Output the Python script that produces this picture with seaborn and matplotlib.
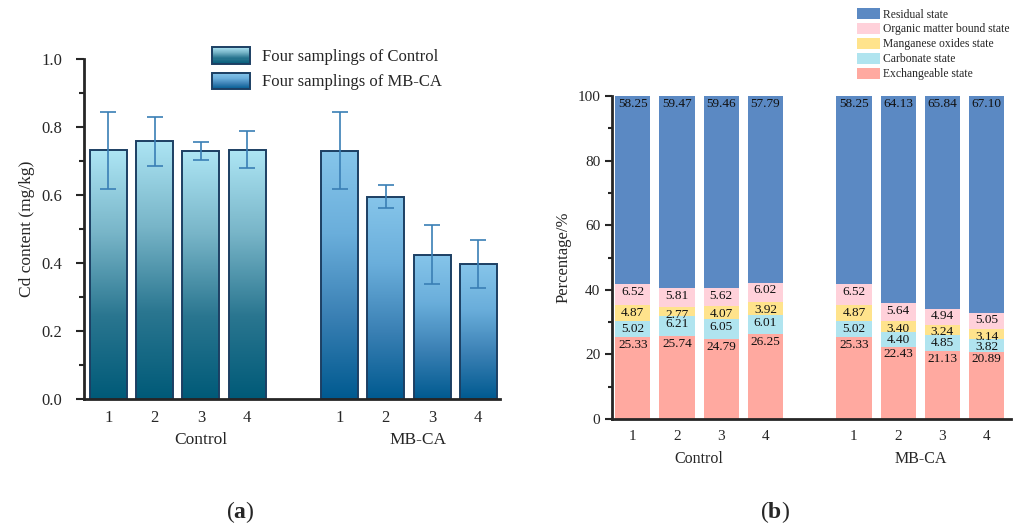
import numpy as np
import pandas as pd
import matplotlib
matplotlib.use("Agg")
import matplotlib.pyplot as plt
import seaborn as sns
from matplotlib.colors import LinearSegmentedColormap
from matplotlib.patches import Rectangle
from matplotlib.ticker import MultipleLocator, FormatStrFormatter
from matplotlib.legend_handler import HandlerPatch

# ---------------- data ----------------
groups = ["Control", "MB-CA"]
samplings = ["1", "2", "3", "4"]
cd_control = [0.732, 0.759, 0.729, 0.732]
cd_mbca = [0.729, 0.594, 0.425, 0.397]
err_lo_control = [0.115, 0.074, 0.027, 0.052]
err_hi_control = [0.113, 0.071, 0.028, 0.055]
err_lo_mbca = [0.112, 0.033, 0.087, 0.071]
err_hi_mbca = [0.116, 0.034, 0.088, 0.071]

fractions = ["Exchangeable state", "Carbonate state", "Manganese oxides state",
             "Organic matter bound state", "Residual state"]
exch = [25.33, 25.74, 24.79, 26.25, 25.33, 22.43, 21.13, 20.89]
carb = [5.02, 6.21, 6.05, 6.01, 5.02, 4.40, 4.85, 3.82]
mang = [4.87, 2.77, 4.07, 3.92, 4.87, 3.40, 3.24, 3.14]
orga = [6.52, 5.81, 5.62, 6.02, 6.52, 5.64, 4.94, 5.05]
resi = [58.25, 59.47, 59.46, 57.79, 58.25, 64.13, 65.84, 67.10]
frac_colors = ["#ffa9a0", "#b0e4ef", "#ffe38c", "#ffd1da", "#5b89c3"]

# ---------------- style ----------------
sns.set_style("ticks")
plt.rcParams["font.family"] = ["Liberation Serif", "DejaVu Serif"]
plt.rcParams["mathtext.fontset"] = "custom"
plt.rcParams["mathtext.rm"] = "Liberation Serif"
plt.rcParams["mathtext.bf"] = "Liberation Serif:bold"

fig = plt.figure(figsize=(10.21, 5.26), dpi=100)
W, H = 1021, 526
def ax_rect(x0, y0, x1, y1):
    return [x0 / W, 1 - y1 / H, (x1 - x0) / W, (y1 - y0) / H]

axA = fig.add_axes(ax_rect(84, 59, 500, 399))
axB = fig.add_axes(ax_rect(612, 96, 1011, 419))

ids = [f"C{s}" for s in samplings] + [f"M{s}" for s in samplings]
order = ids[:4] + ["gap"] + ids[4:]

# ---------------- panel (a) ----------------
dfA = pd.DataFrame({
    "id": ids,
    "group": [groups[0]] * 4 + [groups[1]] * 4,
    "cd": cd_control + cd_mbca,
})
sns.barplot(data=dfA, x="id", y="cd", hue="group", order=order, dodge=False,
            errorbar=None, width=0.8, ax=axA, legend=False,
            palette=["#6fb0c4", "#5a9fcc"], edgecolor="#1c3f63", linewidth=1.4)

cmap_c = LinearSegmentedColormap.from_list("c", ["#005a78", "#2a7690", "#78b5c8", "#ade5f4"])
cmap_m = LinearSegmentedColormap.from_list("m", ["#005a90", "#3a80b4", "#6aaedb", "#86c5ea"])
grad = np.linspace(0, 1, 256).reshape(-1, 1)

bars = [p for p in axA.patches if isinstance(p, Rectangle) and p.get_height() > 0]
for p in bars:
    x0, w, h = p.get_x(), p.get_width(), p.get_height()
    xc = x0 + w / 2
    cmap = cmap_c if xc < 4 else cmap_m
    im = axA.imshow(grad, cmap=cmap, aspect="auto", origin="lower",
                    extent=[x0, x0 + w, 0, h], zorder=p.get_zorder() - 0.1)
    im.set_clip_path(p)
    p.set_facecolor("none")

pos = [order.index(i) for i in ids]
axA.errorbar(pos, cd_control + cd_mbca,
             yerr=[err_lo_control + err_lo_mbca, err_hi_control + err_hi_mbca],
             fmt="none", ecolor="#3a7fb5", elinewidth=1.2, capsize=6, capthick=1.2, zorder=5)

axA.set_xlim(-0.53, 8.47)
axA.set_ylim(0, 1.0)
axA.yaxis.set_major_locator(MultipleLocator(0.2))
axA.yaxis.set_minor_locator(MultipleLocator(0.1))
axA.yaxis.set_major_formatter(FormatStrFormatter("%.1f"))
axA.set_xticks(pos)
axA.set_xticklabels(samplings * 2)
axA.tick_params(axis="x", length=0, labelsize=12, pad=8)
axA.tick_params(axis="y", which="major", length=5.5, width=1.5, labelsize=12, pad=10)
axA.tick_params(axis="y", which="minor", length=3.5, width=1.5)
axA.set_xlabel("")
axA.set_ylabel("Cd content (mg/kg)", fontsize=12.5, labelpad=5)
sns.despine(ax=axA)
for s in ["left", "bottom"]:
    axA.spines[s].set_linewidth(2)
axA.text(2.0, -0.122, groups[0], ha="center", va="center", fontsize=12.5,
         transform=axA.get_xaxis_transform())
axA.text(6.7, -0.122, groups[1], ha="center", va="center", fontsize=12.5,
         transform=axA.get_xaxis_transform())


class GradHandler(HandlerPatch):
    def __init__(self, cmap):
        super().__init__()
        self.cmap = cmap

    def create_artists(self, legend, orig_handle, xdescent, ydescent, width, height, fontsize, trans):
        n = 16
        arts = []
        for k in range(n):
            c = self.cmap((k + 0.5) / n)
            arts.append(Rectangle((-xdescent, -ydescent + height * k / n), width, height / n + 0.2,
                                  facecolor=c, edgecolor="none", transform=trans))
        arts.append(Rectangle((-xdescent, -ydescent), width, height, facecolor="none",
                              edgecolor="#1c3f63", linewidth=1.4, transform=trans))
        return arts

hC = Rectangle((0, 0), 1, 1)
hM = Rectangle((0, 0), 1, 1)
axA.legend([hC, hM], ["Four samplings of Control", "Four samplings of MB-CA"],
           handler_map={hC: GradHandler(cmap_c), hM: GradHandler(cmap_m)},
           loc="upper left", bbox_to_anchor=((212 - 84) / 416, 1.035), frameon=False,
           fontsize=12, handlelength=2.3, handleheight=1.15, handletextpad=0.7,
           labelspacing=0.45, borderaxespad=0, borderpad=0)

# ---------------- panel (b) ----------------
series = [exch, carb, mang, orga, resi]
cum = np.cumsum(np.array(series), axis=0)
# draw cumulative layers from the top down so each visible band shows one fraction
for k in range(len(series) - 1, -1, -1):
    dfL = pd.DataFrame({"id": ids, "v": cum[k]})
    sns.barplot(data=dfL, x="id", y="v", order=order, color=frac_colors[k],
                saturation=1, width=0.8, errorbar=None, ax=axB, linewidth=0)

for j, i in enumerate(ids):
    x = order.index(i)
    for k in range(len(series)):
        top = cum[k][j]
        axB.text(x, top - 2.4, f"{series[k][j]:.2f}", ha="center", va="center",
                 fontsize=9.5, color="#111111")

axB.set_xlim(-0.47, 8.55)
axB.set_ylim(0, 100)
axB.yaxis.set_major_locator(MultipleLocator(20))
axB.yaxis.set_minor_locator(MultipleLocator(10))
axB.set_xticks([order.index(i) for i in ids])
axB.set_xticklabels(samplings * 2)
axB.tick_params(axis="x", length=0, labelsize=11, pad=8)
axB.tick_params(axis="y", which="major", length=5, width=1.5, labelsize=11)
axB.tick_params(axis="y", which="minor", length=3, width=1.5)
axB.set_xlabel("")
axB.set_ylabel("Percentage/%", fontsize=12)
sns.despine(ax=axB)
for s in ["left", "bottom"]:
    axB.spines[s].set_linewidth(2)
axB.text(1.5, -0.124, groups[0], ha="center", va="center", fontsize=11.5,
         transform=axB.get_xaxis_transform())
axB.text(6.5, -0.124, groups[1], ha="center", va="center", fontsize=11.5,
         transform=axB.get_xaxis_transform())

leg_handles = [Rectangle((0, 0), 1, 1, facecolor=c, edgecolor="none") for c in frac_colors[::-1]]
fig.legend(leg_handles, fractions[::-1], loc="upper left",
           bbox_to_anchor=(857 / W, 1 - 8 / H), frameon=False, fontsize=8.4,
           handlelength=2.0, handleheight=1.1, handletextpad=0.25, labelspacing=0.2,
           borderaxespad=0, borderpad=0)

fig.text(240 / W, 1 - 512 / H, r"($\mathbf{a}$)", ha="center", va="center", fontsize=17)
fig.text(775 / W, 1 - 512 / H, r"($\mathbf{b}$)", ha="center", va="center", fontsize=17)

fig.savefig("out.png", dpi=100)
